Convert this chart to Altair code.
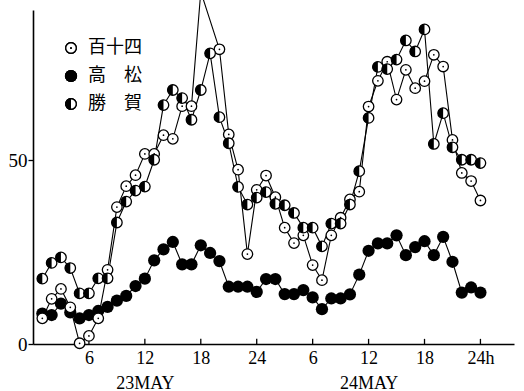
import altair as alt
import pandas as pd

# hours after 0h on 23 May
hours = list(range(1, 49))

# 百十四 (open circles); hour 19 not plotted, hour 18 goes off the top
hyakujushi = [7, 12.3, 15, 10, 0.2, 2.2, 7, 20.2, 37.3, 43,
              46, 51.8, 51.8, 56.9, 55.9, 64.8, 64.8, 96, None, 80.3,
              57.1, 47.5, 24.5, 42, 45.9, 40, 31.7, 27.5, 29.6, 21.5,
              17.4, 29.6, 34.4, 39.4, 41.5, 64.7, 71.7, 76.9, 66.6, 74.7,
              69.7, 71.6, 78.8, 75.6, 55.6, 46.6, 44.4, 39.1]

# 高松 (filled circles)
takamatsu = [8.3, 7.9, 11, 8.6, 7, 7.9, 9, 10.1, 11.8, 13.1,
             15.8, 17.8, 22.8, 25.8, 27.8, 21.7, 21.7, 26.9, 24.8, 22.6,
             15.6, 15.6, 15.6, 14.2, 17.7, 17.7, 13.6, 13.6, 14.7, 12.7,
             9.5, 12.4, 12.4, 13.5, 18.9, 25.4, 27.4, 27.4, 29.6, 24.2,
             26.4, 28, 24.2, 29.2, 22.4, 14, 15.4, 14]

# 勝賀 (half-filled circles)
shoga = [17.8, 22.1, 23.6, 20.7, 13.8, 13.8, 17.9, 17.9, 33.1, 38.8,
         41.8, 42.9, 50.2, 65.1, 69.2, 67, 61.1, 69.2, 79.2, 61.8,
         54.7, 42.8, 38, 39.9, 41.4, 38.2, 37.8, 35.7, 31.7, 31.7,
         26.6, 32.8, 32.8, 38, 47.1, 61.6, 75.5, 74.9, 77.5, 82.7,
         79.7, 85.7, 54.5, 62.9, 53.6, 50.2, 50.2, 49.3]

series_names = ["百十四", "高松", "勝賀"]
legend_labels = ["百十四", "高　松", "勝　賀"]
x_ticks = [6, 12, 18, 24, 30, 36, 42, 48]
y_ticks = [0, 50]

rows = []
for name, vals in zip(series_names, [hyakujushi, takamatsu, shoga]):
    for h, v in zip(hours, vals):
        if v is not None:
            rows.append({"hour": h, "series": name, "value": v})
df = pd.DataFrame(rows)
ticks_df = pd.DataFrame({"hour": x_ticks, "y0": [0] * len(x_ticks), "y1": [1.4] * len(x_ticks)})

SERIF = "Liberation Serif"
CJK = "Noto Sans CJK JP"
HALF = "M0,-1 A1,1 0 0,0 0,1 Z"

label_expr = ("datum.value == 12 ? ['12', '23MAY'] : datum.value == 36 ? ['12', '24MAY'] : "
              "datum.value == 48 ? '24h' : datum.value == 24 ? '24' : '' + (datum.value % 24)")

x_enc = alt.X("hour:Q", scale=alt.Scale(domain=[0, 51.6], nice=False),
              axis=alt.Axis(values=x_ticks, labelExpr=label_expr, title=None, grid=False,
                            ticks=False, labelPadding=5, labelFont=SERIF, labelFontSize=18,
                            labelColor="black", labelLineHeight=25, domainColor="black",
                            domainWidth=1.6, labelFlush=False))
y_enc = alt.Y("value:Q", scale=alt.Scale(domain=[0, 91], nice=False, zero=True),
              axis=alt.Axis(values=y_ticks, title=None, grid=False, tickSize=5,
                            tickColor="black", tickWidth=1.3, labelPadding=1,
                            labelFont=SERIF, labelFontSize=19, labelColor="black",
                            domainColor="black", domainWidth=1.6))

base = alt.Chart(df)

lines = base.mark_line(color="black", strokeWidth=1.1, clip=False).encode(
    x=x_enc, y=y_enc, detail="series:N", order="hour:Q")

tick_marks = alt.Chart(ticks_df).mark_rule(color="black", strokeWidth=1.3).encode(
    x="hour:Q", y="y0:Q", y2="y1")

taka = base.transform_filter(alt.datum.series == "高松").mark_point(
    shape="circle", filled=True, color="black", size=150, opacity=1).encode(x="hour:Q", y="value:Q")

hya = base.transform_filter(alt.datum.series == "百十四").mark_point(
    shape="circle", filled=True, fill="white", stroke="black", strokeWidth=1.3,
    size=110, opacity=1).encode(x="hour:Q", y="value:Q")
hya_dot = base.transform_filter(alt.datum.series == "百十四").mark_point(
    shape="circle", filled=True, color="black", size=3, opacity=1).encode(x="hour:Q", y="value:Q")

sho = base.transform_filter(alt.datum.series == "勝賀").mark_point(
    shape="circle", filled=True, fill="white", stroke="black", strokeWidth=1.3,
    size=110, opacity=1).encode(x="hour:Q", y="value:Q")
sho_half = base.transform_filter(alt.datum.series == "勝賀").mark_point(
    shape=HALF, filled=True, color="black", size=115, opacity=1).encode(x="hour:Q", y="value:Q")

# legend (manual, top-left)
leg_df = pd.DataFrame({"label": legend_labels})
lx, ltx, ly = 38, 55, [38, 66, 94]
leg = []
leg.append(alt.Chart(leg_df).mark_point(shape="circle", filled=True, fill="white", stroke="black",
                                        strokeWidth=1.3, size=110, opacity=1)
           .encode(x=alt.value(lx), y=alt.value(ly[0])))
leg.append(alt.Chart(leg_df).mark_point(shape="circle", filled=True, color="black", size=3, opacity=1)
           .encode(x=alt.value(lx), y=alt.value(ly[0])))
leg.append(alt.Chart(leg_df).mark_point(shape="circle", filled=True, color="black", size=150, opacity=1)
           .encode(x=alt.value(lx), y=alt.value(ly[1])))
leg.append(alt.Chart(leg_df).mark_point(shape="circle", filled=True, fill="white", stroke="black",
                                        strokeWidth=1.3, size=110, opacity=1)
           .encode(x=alt.value(lx), y=alt.value(ly[2])))
leg.append(alt.Chart(leg_df).mark_point(shape=HALF, filled=True, color="black", size=115, opacity=1)
           .encode(x=alt.value(lx), y=alt.value(ly[2])))
for i, lab in enumerate(legend_labels):
    leg.append(alt.Chart(pd.DataFrame({"label": [lab]})).mark_text(
        align="left", baseline="middle", font=CJK, fontSize=18, color="black")
        .encode(x=alt.value(ltx), y=alt.value(ly[i]), text="label:N"))

chart = alt.layer(lines, tick_marks, taka, hya, hya_dot, sho, sho_half, *leg).properties(
    width=481, height=334,
    autosize=alt.AutoSizeParams(type="none"),
    padding={"left": 33, "top": 10, "right": 10, "bottom": 47},
    background="white",
).configure_view(stroke=None)

chart.save("out.html", embed_options={"renderer": "svg", "actions": False})
